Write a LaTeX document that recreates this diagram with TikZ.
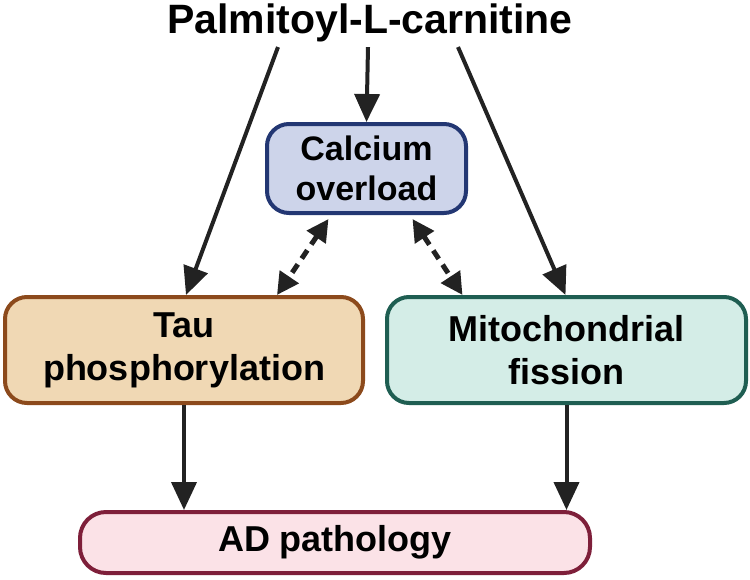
\documentclass[tikz,border=0pt]{standalone}
\usepackage{fontspec}
\setmainfont{Liberation Sans}
\usetikzlibrary{arrows.meta,calc}
\definecolor{calcfill}{HTML}{CDD4EA}
\definecolor{calcdraw}{HTML}{233773}
\definecolor{taufill}{HTML}{F0D8B4}
\definecolor{taudraw}{HTML}{8C4A1C}
\definecolor{mitofill}{HTML}{D4EDE7}
\definecolor{mitodraw}{HTML}{1F5E52}
\definecolor{adfill}{HTML}{FBE2E7}
\definecolor{addraw}{HTML}{7E1F3A}
\definecolor{arrowcol}{HTML}{222222}
\tikzset{
  box/.style={rectangle, rounded corners=22pt, line width=4pt, align=center,
    inner sep=0pt, font=\bfseries\fontsize{36}{43}\selectfont, text=black},
  arr/.style={line width=4pt, draw=arrowcol, -{Triangle[length=28pt,width=25pt]}},
  darr/.style={line width=5pt, draw=arrowcol, dash pattern=on 10pt off 7pt,
    {Triangle[length=22pt,width=22pt]}-{Triangle[length=22pt,width=22pt]}}
}
\begin{document}
\begin{tikzpicture}[x=1pt,y=-1pt]
\useasboundingbox (0,0) rectangle (750,579);
\node[anchor=base, font=\bfseries\fontsize{41}{48}\selectfont] (title) at (370,33) {Palmitoyl-L-carnitine};
\node[box, fill=calcfill, draw=calcdraw, minimum width=199pt, minimum height=89pt,
  font=\bfseries\fontsize{34}{40}\selectfont] (calc) at (366.5,168.5) {Calcium\\overload};
\node[box, fill=taufill, draw=taudraw, minimum width=358pt, minimum height=106pt] (tau) at (184,350) {Tau\\phosphorylation};
\node[box, fill=mitofill, draw=mitodraw, minimum width=359pt, minimum height=106pt] (mito) at (566.5,350) {Mitochondrial\\fission};
\node[box, fill=adfill, draw=addraw, minimum width=510pt, minimum height=61pt, rounded corners=26pt] (ad) at (335,542.5) {AD pathology};
% arrows from title
\draw[arr] ($(title.south)+(-92,2)$) -- ($(tau.north)+(2,0)$);
\draw[arr] ($(title.south)+(-2,2)$) -- (calc.north);
\draw[arr] ($(title.south)+(88,2)$) -- ($(mito.north)+(-1,0)$);
% dashed double arrows
\draw[darr] ($(calc.south)+(-38,4)$) -- ($(tau.north)+(93,0)$);
\draw[darr] ($(calc.south)+(46,4)$) -- ($(mito.north)+(-104,0)$);
% to AD
\draw[arr] (tau.south) -- (tau.south |- ad.north);
\draw[arr] (mito.south) -- (mito.south |- ad.north);
\end{tikzpicture}
\end{document}
